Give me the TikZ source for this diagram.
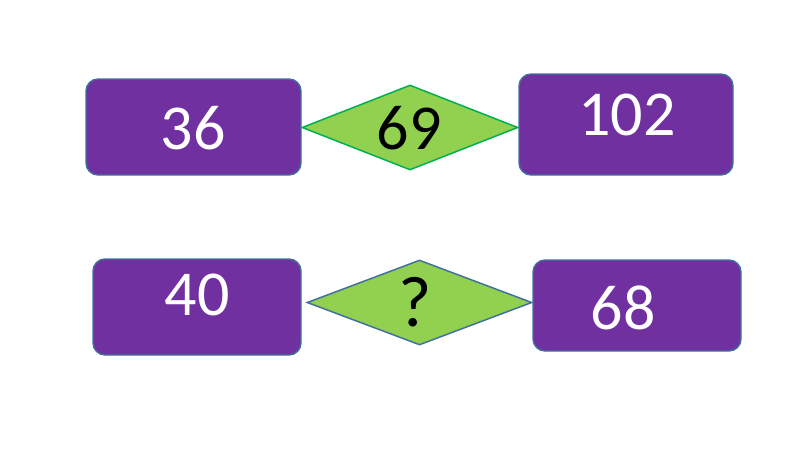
\documentclass[tikz,border=0pt]{standalone}
\usepackage{fontspec}
\setmainfont{Carlito}
\usetikzlibrary{shapes.geometric}
\definecolor{boxfill}{HTML}{7030A0}
\definecolor{boxline}{HTML}{41719C}
\definecolor{dfill}{HTML}{92D050}
\definecolor{dgreen}{HTML}{00B050}
\begin{document}
\begin{tikzpicture}[x=1pt,y=-1pt,
  numbox/.style={rectangle, rounded corners=12pt, fill=boxfill, draw=boxline, line width=1.4pt, inner sep=0pt},
  dia/.style={diamond, fill=dfill, line width=1.5pt, inner sep=0pt},
  whitetext/.style={text=white, inner sep=0pt, font=\fontsize{64}{64}\selectfont},
  blacktext/.style={text=black, inner sep=0pt, font=\fontsize{64}{64}\selectfont}]
\useasboundingbox (0,0) rectangle (800,450);
% top row
\node[numbox, minimum width=215pt, minimum height=96pt] (b36) at (193.5,127) {};
\node[dia, draw=dgreen, minimum width=216pt, minimum height=85pt] (d69) at (410,127.5) {};
\node[numbox, minimum width=214pt, minimum height=101pt] (b102) at (626,124.5) {};
\node[whitetext] (t36) at (193,128) {36};
\node[blacktext] (t69) at (409,128) {69};
\node[whitetext] (t102) at (627,115) {102};
% bottom row
\node[numbox, minimum width=208pt, minimum height=96pt] (b40) at (197,307) {};
\node[dia, draw=boxline, minimum width=225pt, minimum height=85pt] (dq) at (419.5,302.5) {};
\node[numbox, minimum width=208pt, minimum height=91pt] (b68) at (637,305.5) {};
\node[whitetext] (t40) at (197,295) {40};
\node[blacktext, font=\fontsize{72}{72}\selectfont] (tq) at (415,302) {?};
\node[whitetext] (t68) at (623,308) {68};
\end{tikzpicture}
\end{document}
